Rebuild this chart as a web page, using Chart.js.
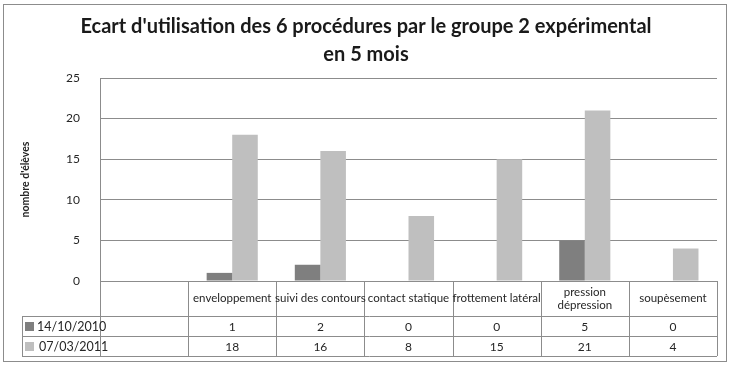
<!DOCTYPE html>
<html>
<head>
<meta charset="utf-8">
<script src="https://cdn.jsdelivr.net/npm/chart.js@4/dist/chart.umd.min.js"></script>
<style>
  html, body { margin: 0; padding: 0; background: #fff; }
  canvas { display: block; }
</style>
</head>
<body>
<canvas id="c" width="732" height="366"></canvas>
<script>
// données
const categories = ['', 'enveloppement', 'suivi des contours', 'contact statique', 'frottement latéral', 'pression\ndépression', 'soupèsement'];
const seriesNames = ['14/10/2010', '07/03/2011'];
const values2010 = [null, 1, 2, 0, 0, 5, 0];
const values2011 = [null, 18, 16, 8, 15, 21, 4];
const yTicks = [0, 5, 10, 15, 20, 25];

const titleLines = ["Ecart d'utilisation des 6 procédures par le groupe 2 expérimental", 'en 5 mois'];
const yTitle = "nombre d'élèves";

const colors = ['#7f7f7f', '#bfbfbf'];
const lineColor = '#8c8c8c';
const textColor = '#262626';
const FONT = 'Lato, "Open Sans", sans-serif';

// titre, cadre et tableau de données sous le graphique
const tablePlugin = {
    id: 'dataTable',
    afterDraw(chart) {
        const ctx = chart.ctx;
        const xs = chart.scales.x;
        const area = chart.chartArea;
        const colW = (area.right - area.left) / categories.length;
        const rowTop = area.bottom;
        const row1 = rowTop + 35;
        const row2 = row1 + 20;
        const rowEnd = row2 + 20;
        const legendLeft = 22;

        ctx.save();
        // cadre extérieur
        ctx.strokeStyle = lineColor;
        ctx.lineWidth = 1;
        ctx.strokeRect(3.5, 4.5, 723, 357);

        // titre
        ctx.fillStyle = '#1a1a1a';
        ctx.font = 'bold 20px ' + FONT;
        ctx.textAlign = 'center';
        ctx.textBaseline = 'middle';
        ctx.fillText(titleLines[0], 366, 27);
        ctx.fillText(titleLines[1], 366, 55);

        // titre de l'axe y
        ctx.save();
        ctx.translate(26, (area.top + area.bottom) / 2);
        ctx.rotate(-Math.PI / 2);
        ctx.font = 'bold 10.5px ' + FONT;
        ctx.fillStyle = textColor;
        ctx.fillText(yTitle, 0, 0);
        ctx.restore();

        // lignes du tableau
        ctx.beginPath();
        for (let i = 0; i <= categories.length; i++) {
            const x = Math.round(area.left + i * colW) + 0.5;
            ctx.moveTo(x, rowTop);
            ctx.lineTo(x, rowEnd);
        }
        ctx.moveTo(legendLeft + 0.5, row1);
        ctx.lineTo(legendLeft + 0.5, rowEnd);
        [row1, row2, rowEnd].forEach(y => {
            ctx.moveTo(legendLeft, Math.round(y) + 0.5);
            ctx.lineTo(area.right, Math.round(y) + 0.5);
        });
        ctx.moveTo(area.left, Math.round(rowTop) + 0.5);
        ctx.lineTo(area.right, Math.round(rowTop) + 0.5);
        ctx.stroke();

        // en-têtes des catégories
        ctx.font = '11.5px ' + FONT;
        ctx.fillStyle = textColor;
        categories.forEach((label, i) => {
            const cx = xs.getPixelForValue(i);
            const lines = label.split('\n');
            const mid = (rowTop + row1) / 2;
            lines.forEach((ln, j) => {
                ctx.fillText(ln, cx, mid + (j - (lines.length - 1) / 2) * 13);
            });
        });

        // valeurs
        ctx.font = '12px ' + FONT;
        [values2010, values2011].forEach((vals, r) => {
            const cy = (r === 0 ? (row1 + row2) / 2 : (row2 + rowEnd) / 2) + 1;
            vals.forEach((v, i) => {
                if (v === null) return;
                ctx.fillText(String(v), xs.getPixelForValue(i), cy);
            });
            // légende
            ctx.fillStyle = colors[r];
            ctx.fillRect(25, cy - 5, 9, 9);
            ctx.fillStyle = textColor;
            ctx.textAlign = 'left';
            ctx.font = '12.5px ' + FONT;
            ctx.fillText(seriesNames[r], 37 + r * 2, cy);
            ctx.textAlign = 'center';
            ctx.font = '12px ' + FONT;
        });
        ctx.restore();
    }
};

new Chart(document.getElementById('c'), {
    type: 'bar',
    data: {
        labels: categories,
        datasets: [
            { label: seriesNames[0], data: values2010, backgroundColor: colors[0], borderWidth: 0 },
            { label: seriesNames[1], data: values2011, backgroundColor: colors[1], borderWidth: 0 }
        ]
    },
    options: {
        responsive: false,
        animation: false,
        events: [],
        layout: { padding: { left: 0, right: 15, top: 78, bottom: 0 } },
        datasets: { bar: { categoryPercentage: 0.58, barPercentage: 1 } },
        scales: {
            x: {
                grid: { display: false, drawTicks: false },
                border: { display: false },
                ticks: { display: false },
                afterFit(s) { s.height = 85; }
            },
            y: {
                min: 0,
                max: 25,
                afterBuildTicks(s) { s.ticks = yTicks.map(v => ({ value: v })); },
                afterFit(s) { s.width = 100; },
                grid: { color: lineColor, drawTicks: false },
                border: { display: true, color: lineColor },
                ticks: { padding: 20, color: textColor, font: { family: FONT, size: 12 } }
            }
        },
        plugins: {
            legend: { display: false },
            tooltip: { enabled: false },
            title: { display: false }
        }
    },
    plugins: [tablePlugin]
});
</script>
</body>
</html>
